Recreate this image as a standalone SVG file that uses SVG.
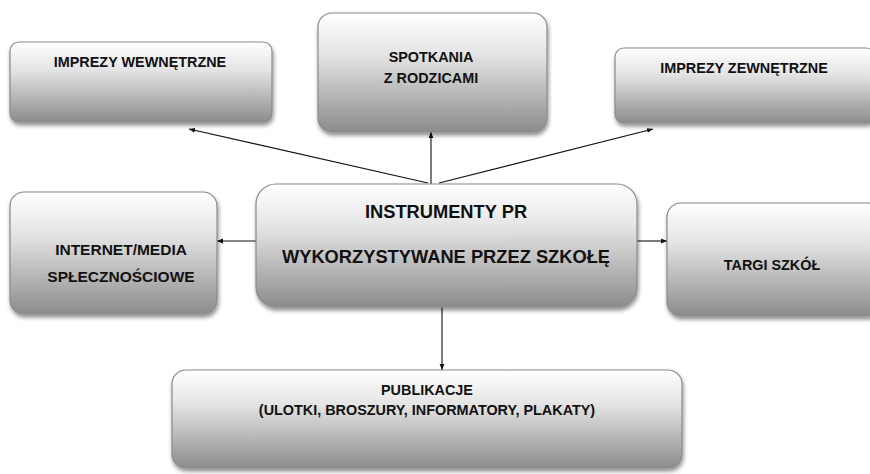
<svg xmlns="http://www.w3.org/2000/svg" width="870" height="474" viewBox="0 0 870 474">
<defs>
<linearGradient id="g" x1="0" y1="0" x2="0" y2="1">
<stop offset="0" stop-color="#ffffff"/>
<stop offset="0.35" stop-color="#e4e4e4"/>
<stop offset="1" stop-color="#8c8c8c"/>
</linearGradient>
<filter id="sh" x="-10%" y="-10%" width="125%" height="130%">
<feGaussianBlur in="SourceAlpha" stdDeviation="2"/>
<feOffset dx="1" dy="3" result="b"/>
<feComponentTransfer><feFuncA type="linear" slope="0.45"/></feComponentTransfer>
<feMerge><feMergeNode/><feMergeNode in="SourceGraphic"/></feMerge>
</filter>
<marker id="ah" viewBox="0 0 10 10" refX="10" refY="5" markerWidth="6" markerHeight="6" orient="auto" markerUnits="userSpaceOnUse">
<path d="M0,1 L10,5 L0,9 z" fill="#111"/>
</marker>
</defs>
<style>
.box{fill:url(#g);stroke:#8a8a8a;stroke-width:1.2;filter:url(#sh)}
.t{font-family:"Liberation Sans",Arial,sans-serif;font-weight:bold;fill:#111;text-anchor:middle;font-size:14.4px}
.tl{font-size:18.3px}
.tm{font-size:15.5px}
.c{stroke:#111;stroke-width:1.1;fill:none;marker-end:url(#ah)}
</style>
<rect width="870" height="474" fill="#ffffff"/>
<g id="connectors">
<line class="c" x1="428" y1="183" x2="189" y2="129"/>
<line class="c" x1="431" y1="184" x2="431" y2="132"/>
<line class="c" x1="439" y1="183" x2="653" y2="129"/>
<line class="c" x1="256" y1="241" x2="217" y2="241"/>
<line class="c" x1="637" y1="241" x2="667" y2="241"/>
<line class="c" x1="442" y1="307" x2="442" y2="370"/>
</g>
<g id="n_wewn">
<rect class="box" x="10" y="42" width="262" height="80" rx="9"/>
<text class="t" x="140" y="67">IMPREZY WEWNĘTRZNE</text>
</g>
<g id="n_spotkania">
<rect class="box" x="318" y="13" width="229" height="119" rx="14"/>
<text class="t" x="431" y="62">SPOTKANIA</text>
<text class="t" x="431" y="83">Z RODZICAMI</text>
</g>
<g id="n_zewn">
<rect class="box" x="615" y="48" width="260" height="75" rx="9"/>
<text class="t" x="744" y="73">IMPREZY ZEWNĘTRZNE</text>
</g>
<g id="n_center">
<rect class="box" x="256" y="184" width="381" height="123" rx="20"/>
<text class="t tl" x="446" y="218">INSTRUMENTY PR</text>
<text class="t tl" x="446" y="263">WYKORZYSTYWANE PRZEZ SZKOŁĘ</text>
</g>
<g id="n_internet">
<rect class="box" x="10" y="192" width="207" height="122" rx="14"/>
<text class="t tm" x="121" y="255">INTERNET/MEDIA</text>
<text class="t tm" x="121" y="282">SPŁECZNOŚCIOWE</text>
</g>
<g id="n_targi">
<rect class="box" x="667" y="203" width="215" height="113" rx="14"/>
<text class="t" x="772" y="270">TARGI SZKÓŁ</text>
</g>
<g id="n_publikacje">
<rect class="box" x="172" y="370" width="510" height="98" rx="14"/>
<text class="t" x="427" y="395">PUBLIKACJE</text>
<text class="t" x="427" y="415">(ULOTKI, BROSZURY, INFORMATORY, PLAKATY)</text>
</g>
</svg>
